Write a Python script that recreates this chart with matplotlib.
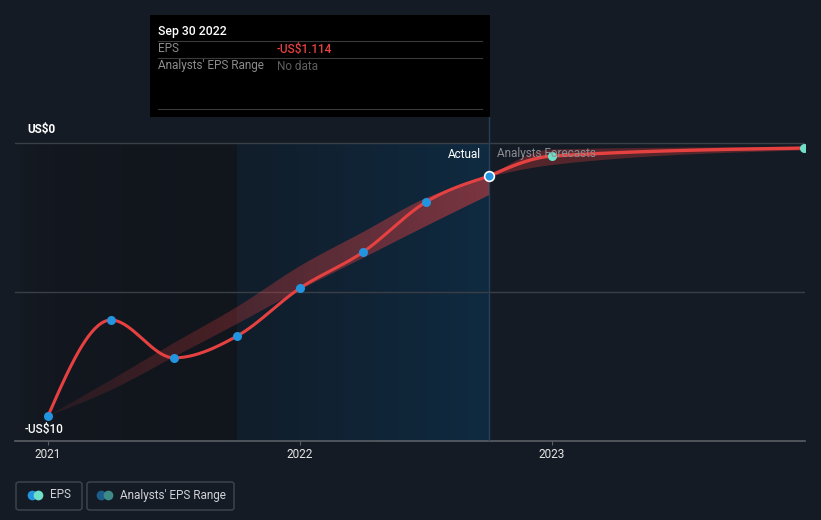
import numpy as np
import matplotlib
matplotlib.use('Agg')
import matplotlib.pyplot as plt
from matplotlib.patches import Rectangle, FancyBboxPatch
from matplotlib.lines import Line2D

plt.rcParams['font.family'] = ['Roboto', 'DejaVu Sans']

# data (decimal years, EPS in US$)
actual_x = [2021.0, 2021.25, 2021.5, 2021.75, 2022.0, 2022.25, 2022.5, 2022.75]
actual_eps = [-9.16, -5.94, -7.21, -6.48, -4.87, -3.66, -1.98, -1.114]
past_high = [-9.16, -7.95, -6.71, -5.50, -4.13, -2.99, -1.85, -1.14]
past_low = [-9.16, -8.29, -7.18, -6.07, -4.93, -3.86, -2.79, -1.75]

fc_x = [2022.75, 2023.0, 2024.0]
fc_eps = [-1.114, -0.44, -0.17]
fc_high = [-1.114, -0.20, -0.11]
fc_low = [-1.114, -0.72, -0.23]

year_ticks = [2021, 2022, 2023]

BG = '#151b24'
RED = '#e64141'
BLUE = '#2394df'
TEAL = '#6ee0c8'

W, H = 821, 520


def monotone(xs, ys, n=40):
    # monotone cubic (like d3 curveMonotoneX)
    xs = np.asarray(xs, float)
    ys = np.asarray(ys, float)
    h = np.diff(xs)
    s = np.diff(ys) / h
    m = np.zeros(len(xs))
    for k in range(1, len(xs) - 1):
        p = (s[k - 1] * h[k] + s[k] * h[k - 1]) / (h[k - 1] + h[k])
        m[k] = (np.sign(s[k - 1]) + np.sign(s[k])) * min(abs(s[k - 1]), abs(s[k]), 0.5 * abs(p))
    m[0] = (3 * s[0] - m[1]) / 2 if len(xs) > 2 else s[0]
    m[-1] = (3 * s[-1] - m[-2]) / 2 if len(xs) > 2 else s[-1]
    out_x, out_y = [], []
    for k in range(len(xs) - 1):
        t = np.linspace(0, 1, n)
        h00 = 2 * t**3 - 3 * t**2 + 1
        h10 = t**3 - 2 * t**2 + t
        h01 = -2 * t**3 + 3 * t**2
        h11 = t**3 - t**2
        out_x.append(xs[k] + t * h[k])
        out_y.append(h00 * ys[k] + h10 * h[k] * m[k] + h01 * ys[k + 1] + h11 * h[k] * m[k + 1])
    return np.concatenate(out_x), np.concatenate(out_y)


def px_x(p):
    return 2021 + (p - 48) / 252.0


fig = plt.figure(figsize=(W / 100, H / 100), dpi=100, facecolor=BG)
ax = fig.add_axes([15 / W, (H - 441) / H, 790 / W, 441 / H])
ax.set_facecolor(BG)
x0, x1 = px_x(15), px_x(805)
ytop = 143 / 29.8
for sp in ax.spines.values():
    sp.set_visible(False)

# shaded regions
grad = np.linspace(0, 1, 50).reshape(1, -1)
c0 = np.array(matplotlib.colors.to_rgb(BG))
c1 = np.array(matplotlib.colors.to_rgb('#11151c'))
img = c0 + (c1 - c0) * grad[..., None] ** 0.4
ax.imshow(img, extent=[x0, 2021.75, -10, 0], aspect='auto', zorder=0.5)
c2 = np.array(matplotlib.colors.to_rgb('#111d2a'))
c3 = np.array(matplotlib.colors.to_rgb('#0f2a40'))
img2 = c2 + (c3 - c2) * grad[..., None]
ax.imshow(img2, extent=[2021.75, 2022.75, -10, 0], aspect='auto', zorder=0.5)
ax.set_xlim(x0, x1)
ax.set_ylim(-10, ytop)

# grid
for yv in [0, -5]:
    ax.plot([x0, x1], [yv, yv], color='#3a3f47', lw=1, zorder=1)
ax.plot([x0, x1], [-10, -10], color='#5a5f66', lw=1.2, zorder=1, clip_on=False)
ax.plot([2022.75, 2022.75], [-10, (143 - 117) / 29.8], color='#24405c', lw=1, zorder=1)

# past analysts band with gradient
bx, bh = monotone(actual_x, past_high)
_, bl = monotone(actual_x, past_low)
poly = ax.fill_between(bx, bl, bh, color='none', lw=0)
rgba = np.zeros((1, 100, 4))
rgba[..., :3] = matplotlib.colors.to_rgb(RED)
rgba[..., 3] = np.linspace(0.1, 0.5, 100)
im = ax.imshow(rgba, extent=[2021.0, 2022.75, -10, 0], aspect='auto', zorder=2)
im.set_clip_path(poly.get_paths()[0], transform=ax.transData)

# forecast band
fx, fh = monotone(fc_x, fc_high)
_, fl = monotone(fc_x, fc_low)
ax.fill_between(fx, fl, fh, color=RED, alpha=0.3, lw=0, zorder=2)

# lines
lx, ly = monotone(actual_x, actual_eps)
ax.plot(lx, ly, color=RED, lw=2.2, zorder=3, solid_capstyle='round')
flx, fly = monotone(fc_x, fc_eps)
ax.plot(flx, fly, color=RED, lw=2.4, zorder=3, solid_capstyle='round')

ax.plot(actual_x[:-1], actual_eps[:-1], 'o', color=BLUE, ms=6.5, mec='none', zorder=4)
ax.plot(actual_x[-1:], actual_eps[-1:], 'o', color=BLUE, ms=7, mec='white', mew=1.2, zorder=5)
ax.plot(fc_x[1:], fc_eps[1:], 'o', color=TEAL, ms=6.5, mec='none', zorder=4)

ax.text(px_x(481), -(154 - 143) / 29.8, 'Actual', color='#ffffff', fontsize=8.5,
        ha='right', va='center', zorder=6)
ax.text(px_x(497), -(154 - 143) / 29.8, 'Analysts Forecasts', color='#8a8d92', fontsize=8.5,
        ha='left', va='center', zorder=6)

ax.set_xticks(year_ticks)
ax.set_xticklabels([str(y) for y in year_ticks])
ax.tick_params(axis='x', colors='#5a5f66', labelcolor='#e6e6e6', labelsize=8.5,
               length=3, pad=2)
ax.set_yticks([])

fig.text(27 / W, 1 - 130 / H, 'US$0', color='#ffffff', fontsize=8.5, fontweight='bold',
         ha='left', va='center')
fig.text(25 / W, 1 - 430 / H, '-US$10', color='#ffffff', fontsize=8.5, fontweight='medium',
         ha='left', va='center')

# tooltip
fig.patches.append(Rectangle((150 / W, 1 - 117 / H), 340 / W, 102 / H,
                             transform=fig.transFigure, facecolor='#000000', edgecolor='none'))
for yy in [41, 58, 109]:
    fig.lines.append(Line2D([158 / W, 482 / W], [1 - yy / H, 1 - yy / H],
                            transform=fig.transFigure, color='#3a3a3a', lw=0.8))
fig.text(158 / W, 1 - 31 / H, 'Sep 30 2022', color='#ffffff', fontsize=8.8,
         fontweight='medium', va='center')
fig.text(158 / W, 1 - 49 / H, 'EPS', color='#8c8c8c', fontsize=8.5, va='center')
fig.text(277 / W, 1 - 49 / H, '-US$1.114', color=RED, fontsize=8.5, fontweight='medium',
         va='center')
fig.text(158 / W, 1 - 66 / H, "Analysts' EPS Range", color='#8c8c8c', fontsize=8.5, va='center')
fig.text(277 / W, 1 - 66 / H, 'No data', color='#5f5f5f', fontsize=8.5, va='center')

# legend
for (bx0, bx1) in [(16, 82), (87, 234)]:
    fig.patches.append(FancyBboxPatch((bx0 / W, 1 - 510 / H), (bx1 - bx0) / W, 28 / H,
                                      boxstyle='round,pad=0,rounding_size=0.004',
                                      transform=fig.transFigure, facecolor='none',
                                      edgecolor='#41464e', lw=1))
ly_leg = 1 - 495 / H
for cx, col in [(32, BLUE), (38, TEAL), (101, '#1d5d8c'), (108, '#3d8a86')]:
    fig.lines.append(Line2D([cx / W], [ly_leg], transform=fig.transFigure, marker='o',
                            ms=7, color=col, mec='none'))
fig.text(50 / W, ly_leg, 'EPS', color='#cfd2d6', fontsize=8.5, va='center')
fig.text(120 / W, ly_leg, "Analysts' EPS Range", color='#cfd2d6', fontsize=8.5, va='center')

fig.savefig('out.png', dpi=100, facecolor=BG)
